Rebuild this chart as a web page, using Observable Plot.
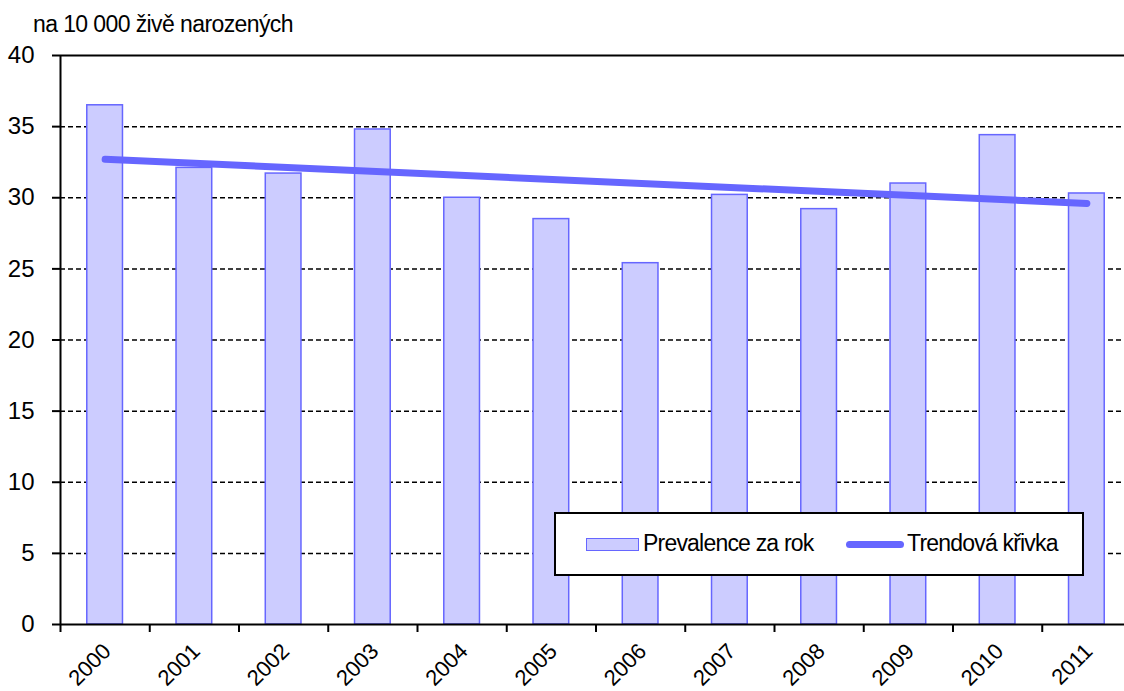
<!DOCTYPE html>
<html>
<head>
<meta charset="utf-8">
<script src="https://cdn.jsdelivr.net/npm/d3@7"></script>
<script src="https://cdn.jsdelivr.net/npm/@observablehq/plot@0.6"></script>
<style>
  html, body { margin: 0; padding: 0; background: #fff; }
  #wrap { position: relative; width: 1124px; height: 691px; overflow: hidden; font-family: "Liberation Sans", Arial, sans-serif; color: #000; }
  #title { position: absolute; left: 33px; top: 13px; font-size: 23px; line-height: 23px; letter-spacing: -0.6px; white-space: nowrap; z-index: 2; }
  #chart { position: absolute; left: 0; top: 0; z-index: 1; }
  #legend { position: absolute; left: 554px; top: 512px; width: 530px; height: 64px; box-sizing: border-box; border: 2px solid #000; background: #fff; z-index: 3; }
  #legend .sw-bar { position: absolute; left: 30px; top: 24px; width: 53px; height: 13px; box-sizing: border-box; background: #ccccff; border: 1.5px solid #6666ff; }
  #legend .sw-line { position: absolute; left: 290px; top: 27px; width: 58px; height: 7px; border-radius: 4px; background: #6666ff; }
  #legend .lab { position: absolute; top: 18px; font-size: 23px; line-height: 23px; letter-spacing: -0.8px; white-space: nowrap; }
</style>
</head>
<body>
<div id="wrap">
  <div id="chart"></div>
  <div id="title"></div>
  <div id="legend"></div>
</div>
<script>
// ---- data ----
const titleText = "na 10 000 živě narozených";
const years = [2000, 2001, 2002, 2003, 2004, 2005, 2006, 2007, 2008, 2009, 2010, 2011];
const prevalence = [36.5, 32.1, 31.7, 34.8, 30.0, 28.5, 25.4, 30.2, 29.2, 31.0, 34.4, 30.3];
const trendYears = [2000, 2011];
const trendValues = [32.7, 29.6];
const yTicks = [0, 5, 10, 15, 20, 25, 30, 35, 40];
const dashedGrid = [5, 10, 15, 20, 25, 30, 35];
const topGrid = [40];
const xBoundaryTicks = [1999.5, 2000.5, 2001.5, 2002.5, 2003.5, 2004.5, 2005.5, 2006.5, 2007.5, 2008.5, 2009.5, 2010.5];
const seriesBar = "Prevalence za rok";
const seriesLine = "Trendová křivka";

const barData = years.map((year, i) => ({year, value: prevalence[i]}));
const trendData = trendYears.map((year, i) => ({year, value: trendValues[i]}));

const barFill = "#ccccff";
const barStroke = "#6666ff";
const halfBar = 0.2;

const chart = Plot.plot({
  width: 1124,
  height: 691,
  marginTop: 55,
  marginBottom: 67,
  marginLeft: 60,
  marginRight: 0,
  x: {type: "linear", domain: [1999.5, 2011.5], range: [60, 1131]},
  y: {domain: [0, 40]},
  style: {fontFamily: '"Liberation Sans", Arial, sans-serif', fontSize: "24px", color: "#000", background: "transparent"},
  marks: [
    Plot.ruleY(dashedGrid, {stroke: "#000", strokeWidth: 1.5, strokeDasharray: "5,3"}),
    Plot.ruleY(topGrid, {stroke: "#000", strokeWidth: 2}),
    Plot.rectY(barData, {x1: d => d.year - halfBar, x2: d => d.year + halfBar, y: "value", fill: barFill, stroke: barStroke, strokeWidth: 1.5}),
    Plot.line(trendData, {x: "year", y: "value", stroke: barStroke, strokeWidth: 7, strokeLinecap: "round"}),
    Plot.ruleY([0], {stroke: "#000", strokeWidth: 2}),
    Plot.ruleX([1999.5], {stroke: "#000", strokeWidth: 2}),
    Plot.axisY({ticks: yTicks, tickSize: 8, tickPadding: 18, label: null, strokeWidth: 2, strokeOpacity: 1}),
    Plot.axisX({ticks: xBoundaryTicks, tickSize: 8, tickFormat: () => "", label: null, strokeWidth: 2, strokeOpacity: 1}),
    Plot.axisX({ticks: years, tickSize: 0, tickPadding: 23, tickRotate: -45, tickFormat: d => String(d), label: null, fontSize: 22, dx: 2})
  ]
});
document.getElementById("chart").appendChild(chart);
document.getElementById("title").textContent = titleText;

const legend = document.getElementById("legend");
legend.innerHTML = `
  <div class="sw-bar"></div>
  <div class="lab" style="left:87px">${seriesBar}</div>
  <div class="sw-line"></div>
  <div class="lab" style="left:351px">${seriesLine}</div>`;
</script>
</body>
</html>
